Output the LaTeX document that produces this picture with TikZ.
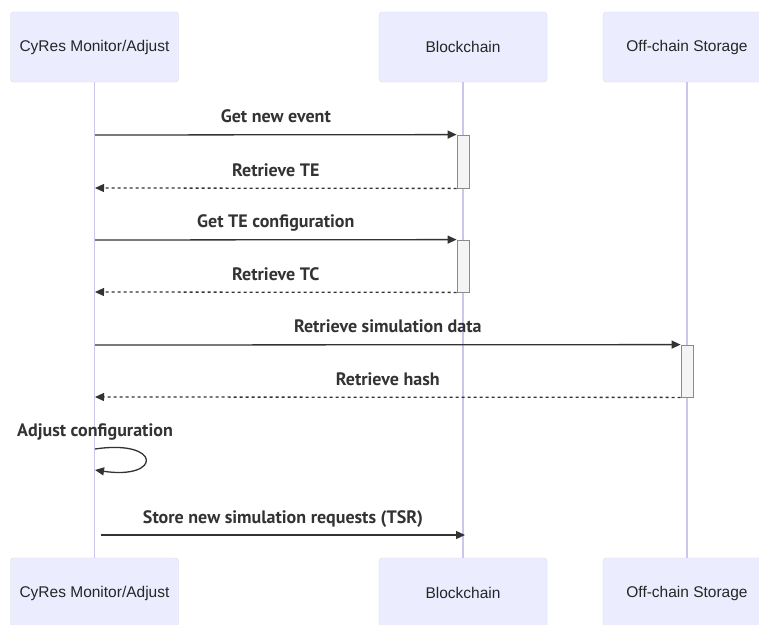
\documentclass[tikz,border=0pt]{standalone}
\usepackage{fontspec}
\setmainfont{Liberation Sans}
\newfontfamily\msgfont{PT Sans}
\usetikzlibrary{arrows.meta}

\definecolor{actorfill}{HTML}{ECECFF}
\definecolor{actorline}{HTML}{DCDCEE}
\definecolor{lifecol}{HTML}{CBC6EC}
\definecolor{msgcol}{HTML}{333333}
\definecolor{actfill}{HTML}{F4F4F4}
\definecolor{actline}{HTML}{8A8A8A}

\tikzset{
  actor/.style={draw=actorline, fill=actorfill, rounded corners=3pt,
    minimum width=168pt, minimum height=70pt, inner sep=0pt,
    font=\fontsize{15.5}{18}\selectfont, text=black!85},
  lifeline/.style={draw=lifecol, line width=1.2pt},
  activation/.style={draw=actline, fill=actfill, line width=0.8pt,
    minimum width=12pt, inner sep=0pt},
  msg/.style={draw=msgcol, line width=1.3pt, -{Triangle[length=9pt,width=8pt]}},
  reply/.style={msg, dash pattern=on 3pt off 3pt},
  msglabel/.style={font=\msgfont\bfseries\fontsize{18}{21}\selectfont,
    text=msgcol, inner sep=0pt, anchor=base, yshift=12pt}
}

\begin{document}
\begin{tikzpicture}[x=1pt,y=-1pt]
  \useasboundingbox[fill=white] (0,0) rectangle (759,624);

  % participants, top and bottom
  \node[actor] (mon) at (94.5,47) {CyRes Monitor/Adjust};
  \node[actor] (bc) at (463,47) {Blockchain};
  \node[actor] (ocs) at (687,47) {Off-chain Storage};
  \node[actor] (monB) at (94.5,593) {CyRes Monitor/Adjust};
  \node[actor] (bcB) at (463,593) {Blockchain};
  \node[actor] (ocsB) at (687,593) {Off-chain Storage};

  % lifelines
  \draw[lifeline] (mon.south) -- (monB.north);
  \draw[lifeline] (bc.south) -- (bcB.north);
  \draw[lifeline] (ocs.south) -- (ocsB.north);

  % activations
  \node[activation, minimum height=53pt] (actTE) at (463,161.5) {};
  \node[activation, minimum height=52pt] (actTC) at (463,266) {};
  \node[activation, minimum height=52pt] (actSim) at (687,371) {};

  % points on the monitor lifeline
  \coordinate (m1) at (95,135);
  \coordinate (m2) at (95,188);
  \coordinate (m3) at (95,240);
  \coordinate (m4) at (95,292);
  \coordinate (m5) at (95,345);
  \coordinate (m6) at (95,397);
  \coordinate (loopA) at (95,449);
  \coordinate (loopB) at (95,470);
  \coordinate (m8) at (101,535);
  \coordinate (b8) at (465,535);

  \begin{scope}
    \draw[msg] (m1) -- (actTE.north west) node[msglabel, midway] {Get new event};
    \draw[reply] (actTE.south west) -- (m2) node[msglabel, midway] {Retrieve TE};
    \draw[msg] (m3) -- (actTC.north west) node[msglabel, midway] {Get TE configuration};
    \draw[reply] (actTC.south west) -- (m4) node[msglabel, midway] {Retrieve TC};
    \draw[msg] (m5) -- (actSim.north west) node[msglabel, midway] {Retrieve simulation data};
    \draw[reply] (actSim.south west) -- (m6) node[msglabel, midway] {Retrieve hash};
    \draw[msg] (loopA) .. controls (162,439) and (162,480) .. (loopB);
    \node[msglabel] (adj) at (95,448) {Adjust configuration};
    \draw[msg] (m8) -- (b8) node[msglabel, midway] {Store new simulation requests (TSR)};
  \end{scope}
\end{tikzpicture}
\end{document}
